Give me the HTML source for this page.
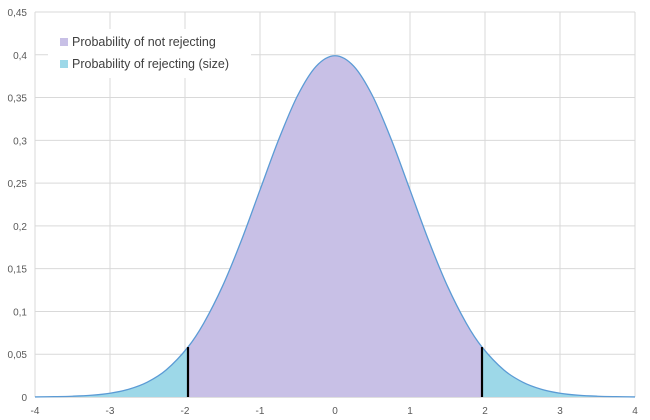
<!DOCTYPE html>
<html><head><meta charset="utf-8"><style>
body{margin:0;background:#fff;}
svg{display:block;font-family:"Liberation Sans",sans-serif;}
</style></head><body>
<svg id="chart" width="650" height="420" viewBox="0 0 650 420"></svg>
<script>
const xValues=[-4,-3.75,-3.5,-3.25,-3,-2.75,-2.5,-2.25,-1.96,-1.75,-1.5,-1.25,-1,-0.75,-0.5,-0.25,0,0.25,0.5,0.75,1,1.25,1.5,1.75,1.96,2.25,2.5,2.75,3,3.25,3.5,3.75,4];
const densityValues=[0.0001,0.0004,0.0009,0.002,0.0044,0.0091,0.0175,0.0317,0.0584,0.0863,0.1295,0.1826,0.242,0.3011,0.3521,0.3867,0.3989,0.3867,0.3521,0.3011,0.242,0.1826,0.1295,0.0863,0.0584,0.0317,0.0175,0.0091,0.0044,0.002,0.0009,0.0004,0.0001];
const criticalValues=[-1.96,1.96];
const xTicks=[-4,-3,-2,-1,0,1,2,3,4];
const yTicks=[0,0.05,0.1,0.15,0.2,0.25,0.3,0.35,0.4,0.45];
const NS="http://www.w3.org/2000/svg";
const svg=document.getElementById('chart');
const X0=35,X1=635,Y0=397,Y1=12;
const sx=v=>X0+(v+4)/8*(X1-X0);
const sy=v=>Y0-v/0.45*(Y0-Y1);
function mk(t,a,p){const e=document.createElementNS(NS,t);for(const k in a)e.setAttribute(k,a[k]);(p||svg).appendChild(e);return e;}
// grid
yTicks.forEach(t=>{
 const l=mk('line',{x1:X0,x2:X1,y1:sy(t),y2:sy(t),stroke:t===0?'#bfbfbf':'#d9d9d9','stroke-width':1});
 
 
 const tx=mk('text',{x:X0-8,y:sy(t)+4,'text-anchor':'end','font-size':10,fill:'#595959'});
 tx.textContent=String(t).replace('.',',');
 
 
});
xTicks.forEach(t=>{
 const l=mk('line',{x1:sx(t),x2:sx(t),y1:Y1,y2:Y0,stroke:'#d9d9d9','stroke-width':1});
 
 
 const tx=mk('text',{x:sx(t),y:Y0+17,'text-anchor':'middle','font-size':10,fill:'#595959'});
 tx.textContent=String(t);
 
 
});
mk('line',{x1:X0,x2:X0,y1:Y1,y2:Y0,stroke:'#d9d9d9'});
const pts=xValues.map((x,i)=>[sx(x),sy(densityValues[i])]);
function seg(i0,i1){ // catmull-rom from i0 to i1
 let d='';
 for(let i=i0;i<i1;i++){
  const p0=pts[Math.max(i-1,0)],p1=pts[i],p2=pts[i+1],p3=pts[Math.min(i+2,pts.length-1)];
  const c1=[p1[0]+(p2[0]-p0[0])/6,p1[1]+(p2[1]-p0[1])/6];
  const c2=[p2[0]-(p3[0]-p1[0])/6,p2[1]-(p3[1]-p1[1])/6];
  d+=` C${c1[0]},${c1[1]} ${c2[0]},${c2[1]} ${p2[0]},${p2[1]}`;
 }
 return d;
}
const ia=xValues.indexOf(criticalValues[0]),ib=xValues.indexOf(criticalValues[1]),n=pts.length-1;
function area(i0,i1,fill,name){
 const d=`M${pts[i0][0]},${Y0} L${pts[i0][0]},${pts[i0][1]}`+seg(i0,i1)+` L${pts[i1][0]},${Y0} Z`;
 const p=mk('path',{d,fill});
 
 
}
area(0,ia,'#9dd8e8','left-rejection-area');
area(ia,ib,'#c8c0e6','non-rejection-area');
area(ib,n,'#9dd8e8','right-rejection-area');
const curve=mk('path',{d:`M${pts[0][0]},${pts[0][1]}`+seg(0,n),fill:'none',stroke:'#5b9bd5','stroke-width':1.3});


criticalValues.forEach((c,k)=>{
 const i=xValues.indexOf(c);
 const l=mk('line',{x1:sx(c),x2:sx(c),y1:sy(densityValues[i]),y2:Y0,stroke:'#000','stroke-width':2.2});
 
 
});
// legend
const g=mk('g',{});


mk('rect',{x:48,y:29,width:203,height:49,fill:'#fff'},g);
[['Probability of not rejecting','#c8c0e6'],['Probability of rejecting (size)','#9dd8e8']].forEach((e,i)=>{
 const eg=mk('g',{},g);
 
 
 mk('rect',{x:60,y:38+i*22,width:8,height:8,fill:e[1]},eg);
 const t=mk('text',{x:72,y:46+i*22,'font-size':12.5,fill:'#404040'},eg);
 t.textContent=e[0];
});
</script>
</body></html>
